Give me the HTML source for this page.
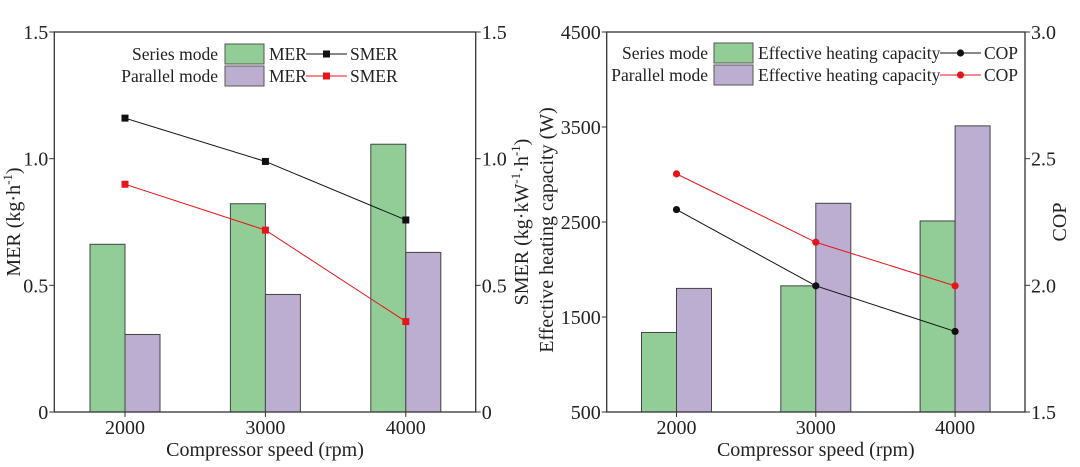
<!DOCTYPE html>
<html><head><meta charset="utf-8"><style>
html,body{margin:0;padding:0;background:#fff;}
svg{display:block;font-family:"Liberation Serif",serif;}
</style></head><body>
<svg id="c" width="1080" height="467" viewBox="0 0 1080 467" xmlns="http://www.w3.org/2000/svg"></svg>
<script>
const categories=["2000","3000","4000"];
const merSeries=[0.662,0.822,1.057];
const merParallel=[0.306,0.464,0.630];
const smerSeries=[1.160,0.989,0.758];
const smerParallel=[0.899,0.718,0.357];
const leftTicks=[0,0.5,1.0,1.5];
const leftTickLabels=["0","0.5","1.0","1.5"];
const capSeries=[1337,1828,2511];
const capParallel=[1801,2697,3512];
const copSeries=[2.299,1.998,1.818];
const copParallel=[2.440,2.170,1.998];
const capTicks=[500,1500,2500,3500,4500];
const copTicks=[1.5,2.0,2.5,3.0];
const copTickLabels=["1.5","2.0","2.5","3.0"];

const NS="http://www.w3.org/2000/svg";
const svg=document.getElementById('c');
function mk(tag,attrs,parent,text){const e=document.createElementNS(NS,tag);for(const k in attrs)e.setAttribute(k,attrs[k]);if(text!==undefined)e.textContent=text;(parent||svg).appendChild(e);return e;}

function panel(o){
  const g=mk('g',{});
  
  
  const yL=v=>o.y1-(v-o.lmin)/(o.lmax-o.lmin)*(o.y1-o.y0);
  const yR=v=>o.y1-(v-o.rmin)/(o.rmax-o.rmin)*(o.y1-o.y0);
  const xC=i=>o.cx0+i*o.step;
  const bw=35;
  categories.forEach((c,i)=>{
    const b1=mk('rect',{x:xC(i)-bw,y:yL(o.barA[i]),width:bw,height:o.y1-yL(o.barA[i]),fill:'#92cd98',stroke:'#444','stroke-width':1},g);
    
    
    const b2=mk('rect',{x:xC(i),y:yL(o.barB[i]),width:bw,height:o.y1-yL(o.barB[i]),fill:'#bcaed0',stroke:'#444','stroke-width':1},g);
    
    
  });
  [[o.lineA,'#111'],[o.lineB,'#e8141b']].forEach(([arr,col],k)=>{
    const pts=arr.map((v,i)=>xC(i)+','+yR(v)).join(' ');
    const pl=mk('polyline',{points:pts,fill:'none',stroke:col,'stroke-width':1},g);
    
    
    arr.forEach((v,i)=>{
      let m;
      if(o.square) m=mk('rect',{x:xC(i)-3.5,y:yR(v)-3.5,width:7,height:7,fill:col},g);
      else m=mk('circle',{cx:xC(i),cy:yR(v),r:3.6,fill:col},g);
      
      
    });
  });
  const f=mk('rect',{x:o.x0,y:o.y0,width:o.x1-o.x0,height:o.y1-o.y0,fill:'none',stroke:'#333','stroke-width':1.3},g);
  
  
  o.lt.forEach((v,i)=>{
    const y=yL(v);
    mk('line',{x1:o.x0-5,x2:o.x0,y1:y,y2:y,stroke:'#333'},g);
    const t=mk('text',{x:o.x0-6,y:y+7,'text-anchor':'end','font-size':20,fill:'#222'},g,o.ltl[i]);
    
    
  });
  o.rt.forEach((v,i)=>{
    const y=yR(v);
    mk('line',{x1:o.x1,x2:o.x1+5,y1:y,y2:y,stroke:'#333'},g);
    const t=mk('text',{x:o.x1+6,y:y+7,'font-size':20,fill:'#222'},g,o.rtl[i]);
    
    
  });
  categories.forEach((c,i)=>{
    mk('line',{x1:xC(i),x2:xC(i),y1:o.y1,y2:o.y1+5,stroke:'#333'},g);
    const t=mk('text',{x:xC(i),y:o.y1+22,'text-anchor':'middle','font-size':20,fill:'#222'},g,c);
    
    
  });
  const xt=mk('text',{x:(o.x0+o.x1)/2,y:456,'text-anchor':'middle','font-size':20,fill:'#222'},g,'Compressor speed (rpm)');
  
  
  const L=o.leg;
  [['Series mode','#92cd98',L.y0,'#111'],['Parallel mode','#bcaed0',L.y0+22,'#e8141b']].forEach(([lab,fill,y,lc],k)=>{
    const e=mk('text',{x:L.tx,y:y+6,'text-anchor':'end','font-size':17.5,fill:'#222'},g,lab);
    
    
    const s=mk('rect',{x:L.sx,y:y-10,width:L.sw,height:20,fill:fill,stroke:'#555'},g);
    
    
    mk('text',{x:L.sx+L.sw+5,y:y+6,'font-size':17.5,fill:'#222'},g,o.barName);
    mk('line',{x1:L.lx0,x2:L.lx1,y1:y,y2:y,stroke:lc},g);
    if(o.square) mk('rect',{x:(L.lx0+L.lx1)/2-3.5,y:y-3.5,width:7,height:7,fill:lc},g);
    else mk('circle',{cx:(L.lx0+L.lx1)/2,cy:y,r:3.6,fill:lc},g);
    mk('text',{x:L.lx1+3,y:y+6,'font-size':17.5,fill:'#222'},g,o.lineName);
  });
  return g;
}

panel({name:'mer-chart',x0:54.3,x1:475.7,y0:32,y1:412,lmin:0,lmax:1.5,rmin:0,rmax:1.5,cx0:125,step:140.4,
  barA:merSeries,barB:merParallel,lineA:smerSeries,lineB:smerParallel,square:true,
  lt:leftTicks,ltl:leftTickLabels,rt:leftTicks,rtl:leftTickLabels,barName:'MER',lineName:'SMER',
  leg:{tx:218,sx:225,sw:39,lx0:306,lx1:347,y0:54}});
panel({name:'heating-chart',x0:606.7,x1:1025,y0:32,y1:412,lmin:500,lmax:4500,rmin:1.5,rmax:3.0,cx0:676.5,step:139.3,
  barA:capSeries,barB:capParallel,lineA:copSeries,lineB:copParallel,square:false,
  lt:capTicks,ltl:capTicks.map(String),rt:copTicks,rtl:copTickLabels,barName:'Effective heating capacity',lineName:'COP',
  leg:{tx:708,sx:714,sw:39,lx0:940,lx1:981,y0:53}});

function vt(x,y,html,name){
  const t=mk('text',{x:0,y:0,transform:`translate(${x},${y}) rotate(-90)`,'text-anchor':'middle','font-size':20,fill:'#222'});
  t.innerHTML=html;
  
  
}
vt(20,222,'MER (kg·h<tspan font-size="13" dy="-8">-1</tspan><tspan dy="8">)</tspan>','left-y-axis-title');
vt(528,222,'SMER (kg·kW<tspan font-size="13" dy="-8">-1</tspan><tspan dy="8">·h</tspan><tspan font-size="13" dy="-8">-1</tspan><tspan dy="8">)</tspan>','smer-y-axis-title');
vt(553,230,'Effective heating capacity (W)','capacity-y-axis-title');
vt(1066,222,'COP','cop-y-axis-title');
</script>
</body></html>
